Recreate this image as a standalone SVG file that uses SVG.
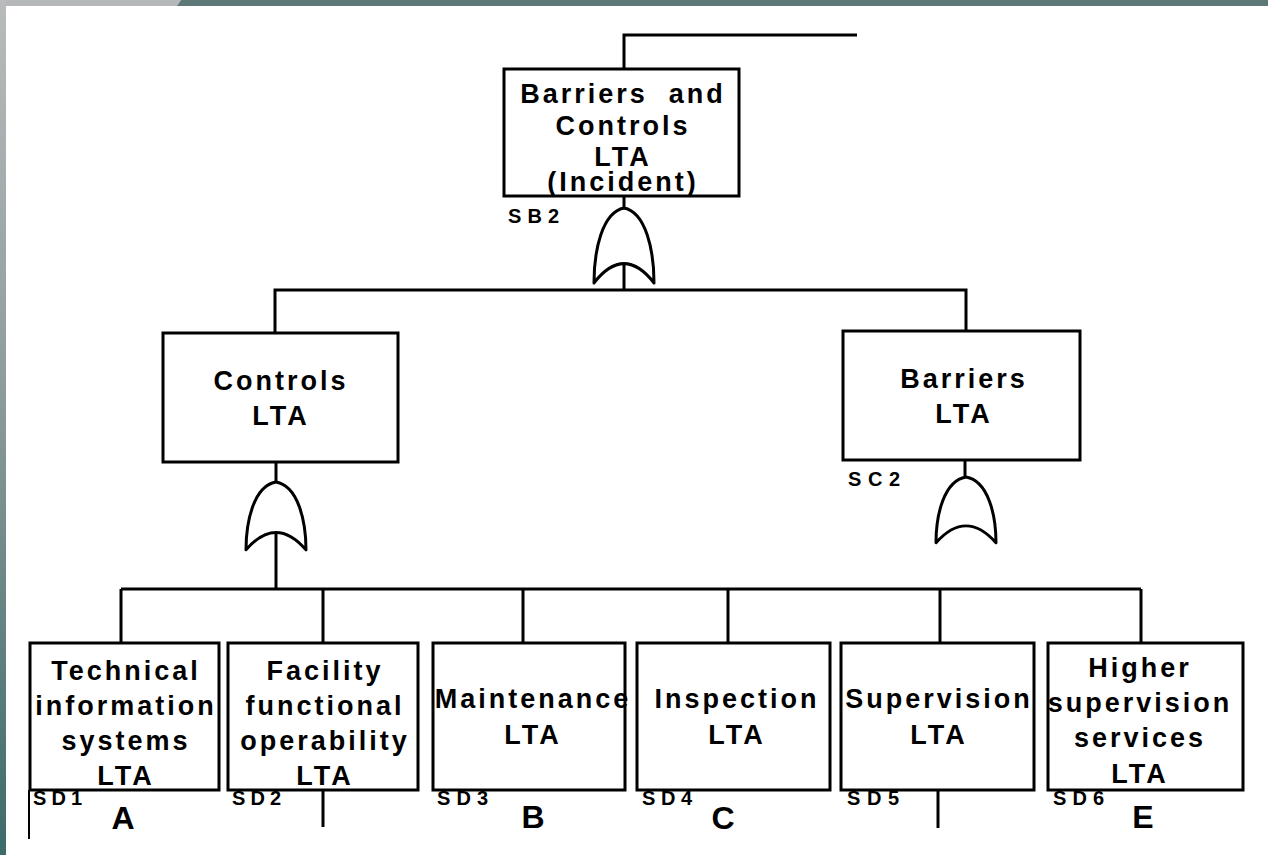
<svg xmlns="http://www.w3.org/2000/svg" width="1268" height="855" viewBox="0 0 1268 855">
<defs>
<linearGradient id="leftGrad" x1="0" y1="0" x2="0" y2="1">
<stop offset="0" stop-color="#b9bbbc"/>
<stop offset="0.45" stop-color="#8e9c9c"/>
<stop offset="1" stop-color="#3c6b69"/>
</linearGradient>
<path id="orgate" d="M0,0 C-22,4 -30,40 -30,70 Q0,34 30,70 C30,40 22,4 0,0 Z"/>
<style>
.box{fill:#fff;stroke:#000;stroke-width:3}
.ln{fill:none;stroke:#000;stroke-width:3}
.gate{fill:#fff;stroke:#000;stroke-width:3;stroke-linejoin:round}
.t{font-family:"Liberation Sans",Arial,sans-serif;font-weight:bold;font-size:27px;letter-spacing:3px;text-anchor:middle;fill:#000}
.id{font-family:"Liberation Sans",Arial,sans-serif;font-weight:bold;font-size:20px;fill:#000}
.big{font-family:"Liberation Sans",Arial,sans-serif;font-weight:bold;font-size:32px;text-anchor:middle;fill:#000}
</style>
</defs>
<rect x="0" y="0" width="1268" height="855" fill="#fff"/>
<polygon points="0,0 181,0 177,6 0,6" fill="#b5b8b9"/>
<polygon points="181,0 1268,0 1268,6 177,6" fill="#5e7777"/>
<rect x="0" y="0" width="6" height="855" fill="url(#leftGrad)"/>

<g id="connectors">
<polyline class="ln" points="624,69 624,35 857,35"/>
<line class="ln" x1="624" y1="196" x2="624" y2="208"/>
<line class="ln" x1="624" y1="255" x2="624" y2="290"/>
<polyline class="ln" points="275,333 275,290 966,290 966,331"/>
<line class="ln" x1="276" y1="462" x2="276" y2="482"/>
<line class="ln" x1="276" y1="531" x2="276" y2="589"/>
<line class="ln" x1="965" y1="460" x2="965" y2="477"/>
<line class="ln" x1="121" y1="589" x2="1141" y2="589"/>
<line class="ln" x1="121" y1="589" x2="121" y2="643"/>
<line class="ln" x1="323" y1="589" x2="323" y2="643"/>
<line class="ln" x1="523" y1="589" x2="523" y2="643"/>
<line class="ln" x1="728" y1="589" x2="728" y2="643"/>
<line class="ln" x1="940" y1="589" x2="940" y2="643"/>
<line class="ln" x1="1141" y1="589" x2="1141" y2="643"/>
<line class="ln" x1="29" y1="790" x2="29" y2="839" style="stroke-width:2"/>
<line class="ln" x1="323" y1="790" x2="323" y2="827"/>
<line class="ln" x1="938" y1="790" x2="938" y2="828"/>
</g>

<g id="gates">
<use id="gate-sb2" href="#orgate" class="gate" transform="translate(624,208) scale(1,1.07)"/>
<use id="gate-controls" href="#orgate" class="gate" transform="translate(276,482) scale(1,0.97)"/>
<use id="gate-sc2" href="#orgate" class="gate" transform="translate(966,477) scale(1,0.94)"/>
</g>

<g id="node-sb2">
<rect class="box" x="504" y="69" width="235" height="127"/>
<text class="t" x="623" y="103">Barriers&#160; and</text>
<text class="t" x="623" y="135">Controls</text>
<text class="t" x="623" y="166">LTA</text>
<text class="t" x="623" y="191">(Incident)</text>
<text class="id" x="508" y="223" textLength="51" lengthAdjust="spacing">SB2</text>
</g>

<g id="node-controls">
<rect class="box" x="163" y="333" width="235" height="129"/>
<text class="t" x="281" y="390">Controls</text>
<text class="t" x="281" y="425">LTA</text>
</g>

<g id="node-sc2">
<rect class="box" x="843" y="331" width="237" height="129"/>
<text class="t" x="964" y="388">Barriers</text>
<text class="t" x="964" y="423">LTA</text>
<text class="id" x="848" y="486" textLength="52" lengthAdjust="spacing">SC2</text>
</g>

<g id="node-sd1">
<rect class="box" x="30" y="643" width="189" height="147"/>
<text class="t" x="126" y="680">Technical</text>
<text class="t" x="126" y="715">information</text>
<text class="t" x="126" y="750">systems</text>
<text class="t" x="126" y="785">LTA</text>
<text class="id" x="33" y="805" textLength="49" lengthAdjust="spacing">SD1</text>
<text class="big" x="123" y="829">A</text>
</g>

<g id="node-sd2">
<rect class="box" x="228" y="643" width="190" height="147"/>
<text class="t" x="325" y="680">Facility</text>
<text class="t" x="325" y="715">functional</text>
<text class="t" x="325" y="750">operability</text>
<text class="t" x="325" y="785">LTA</text>
<text class="id" x="232" y="805" textLength="49" lengthAdjust="spacing">SD2</text>
</g>

<g id="node-sd3">
<rect class="box" x="433" y="643" width="192" height="147"/>
<text class="t" x="533" y="708">Maintenance</text>
<text class="t" x="533" y="744">LTA</text>
<text class="id" x="437" y="805" textLength="51" lengthAdjust="spacing">SD3</text>
<text class="big" x="533" y="828">B</text>
</g>

<g id="node-sd4">
<rect class="box" x="637" y="643" width="193" height="147"/>
<text class="t" x="737" y="708">Inspection</text>
<text class="t" x="737" y="744">LTA</text>
<text class="id" x="642" y="805" textLength="50" lengthAdjust="spacing">SD4</text>
<text class="big" x="723" y="829">C</text>
</g>

<g id="node-sd5">
<rect class="box" x="841" y="643" width="193" height="147"/>
<text class="t" x="939" y="708">Supervision</text>
<text class="t" x="939" y="744">LTA</text>
<text class="id" x="847" y="805" textLength="52" lengthAdjust="spacing">SD5</text>
</g>

<g id="node-sd6">
<rect class="box" x="1048" y="643" width="195" height="147"/>
<text class="t" x="1140" y="677">Higher</text>
<text class="t" x="1140" y="712">supervision</text>
<text class="t" x="1140" y="747">services</text>
<text class="t" x="1140" y="783">LTA</text>
<text class="id" x="1053" y="805" textLength="51" lengthAdjust="spacing">SD6</text>
<text class="big" x="1143" y="828">E</text>
</g>
</svg>
